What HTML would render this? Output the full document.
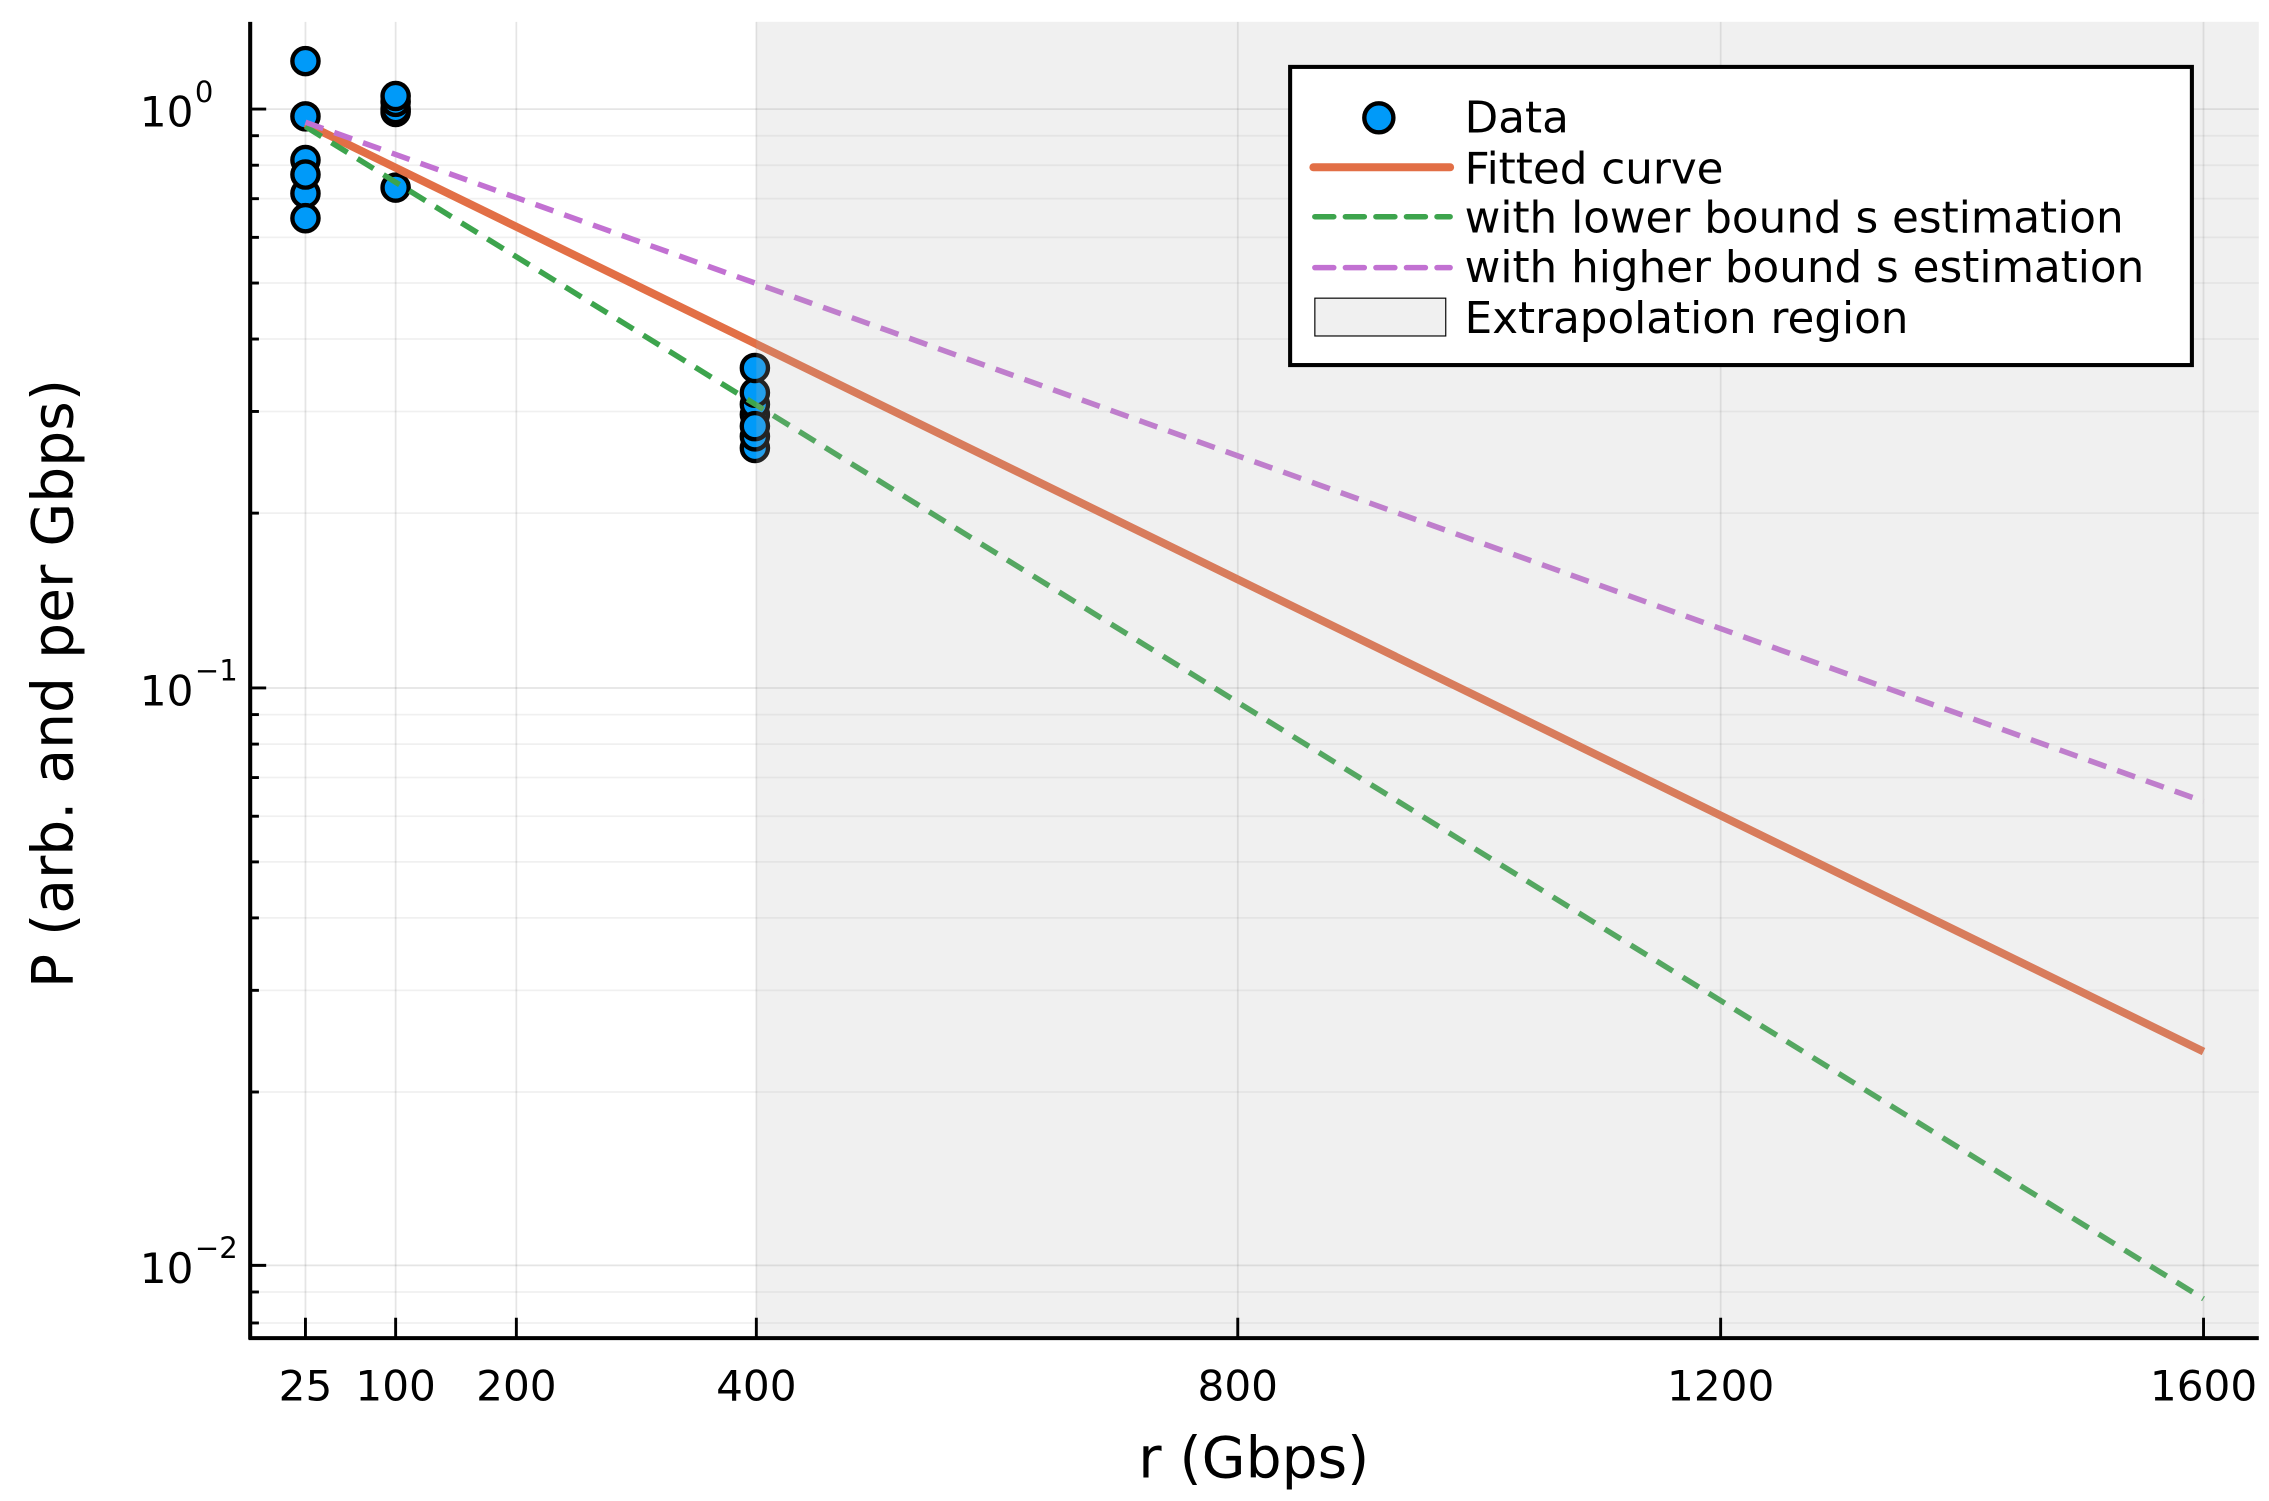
<!DOCTYPE html>
<html><head><meta charset="utf-8"><style>html,body{margin:0;padding:0;background:#fff}svg{display:block}</style></head>
<body>
<svg width="2269" height="1501" viewBox="0 0 1560 1032" xmlns="http://www.w3.org/2000/svg" font-family="'DejaVu Sans','Liberation Sans',sans-serif">
<rect width="1560" height="1032" fill="#fff"/>
<g stroke="#000" stroke-opacity="0.06" stroke-width="1.2">
<line x1="172" x2="1553" y1="352.8" y2="352.8"/><line x1="172" x2="1553" y1="282.9" y2="282.9"/><line x1="172" x2="1553" y1="233.1" y2="233.1"/><line x1="172" x2="1553" y1="194.6" y2="194.6"/><line x1="172" x2="1553" y1="163.2" y2="163.2"/><line x1="172" x2="1553" y1="136.6" y2="136.6"/><line x1="172" x2="1553" y1="113.6" y2="113.6"/><line x1="172" x2="1553" y1="93.3" y2="93.3"/>
<line x1="172" x2="1553" y1="750.8" y2="750.8"/><line x1="172" x2="1553" y1="680.9" y2="680.9"/><line x1="172" x2="1553" y1="631.1" y2="631.1"/><line x1="172" x2="1553" y1="592.6" y2="592.6"/><line x1="172" x2="1553" y1="561.2" y2="561.2"/><line x1="172" x2="1553" y1="534.6" y2="534.6"/><line x1="172" x2="1553" y1="511.6" y2="511.6"/><line x1="172" x2="1553" y1="491.3" y2="491.3"/>
<line x1="172" x2="1553" y1="888.3" y2="888.3"/><line x1="172" x2="1553" y1="909.6" y2="909.6"/>
</g>
<g stroke="#000" stroke-opacity="0.1" stroke-width="1.2">
<line x1="172" x2="1553" y1="75" y2="75"/><line x1="172" x2="1553" y1="473" y2="473"/><line x1="172" x2="1553" y1="870" y2="870"/>
<line x1="210" x2="210" y1="15" y2="920"/><line x1="272" x2="272" y1="15" y2="920"/><line x1="355" x2="355" y1="15" y2="920"/><line x1="520" x2="520" y1="15" y2="920"/><line x1="851" x2="851" y1="15" y2="920"/><line x1="1183" x2="1183" y1="15" y2="920"/><line x1="1515" x2="1515" y1="15" y2="920"/>
</g>
<g fill="#009af9" stroke="#000" stroke-width="3">
<circle cx="210" cy="42" r="9"/><circle cx="210" cy="80" r="9"/><circle cx="210" cy="110" r="9"/><circle cx="210" cy="133" r="9"/><circle cx="210" cy="150" r="9"/><circle cx="210" cy="120" r="9"/>
<circle cx="272" cy="77" r="9"/><circle cx="272" cy="75" r="9"/><circle cx="272" cy="70" r="9"/><circle cx="272" cy="66" r="9"/><circle cx="272" cy="129" r="9"/>
<circle cx="519" cy="308" r="9"/><circle cx="519" cy="300" r="9"/><circle cx="519" cy="285" r="9"/><circle cx="519" cy="278" r="9"/><circle cx="519" cy="270" r="9"/><circle cx="519" cy="293" r="9"/><circle cx="519" cy="253" r="9"/>
</g>
<line x1="210" y1="85" x2="1515" y2="723" stroke="#e26f46" stroke-width="5.5"/>
<line x1="210" y1="87" x2="1515" y2="893" stroke="#3da44d" stroke-width="3.8" stroke-dasharray="13 8"/>
<line x1="210" y1="84" x2="1515" y2="551" stroke="#c271d2" stroke-width="3.8" stroke-dasharray="13 8"/>
<rect x="520" y="15" width="1033" height="905" fill="#b4b4b4" fill-opacity="0.2"/>
<g stroke="#000" stroke-width="2.8">
<line x1="172" y1="15" x2="172" y2="921"/><line x1="171" y1="920" x2="1553" y2="920"/>
</g>
<g stroke="#000" stroke-width="2">
<line x1="172" x2="183" y1="75" y2="75"/><line x1="172" x2="183" y1="473" y2="473"/><line x1="172" x2="183" y1="870" y2="870"/>
<line x1="172" x2="178" y1="352.8" y2="352.8"/><line x1="172" x2="178" y1="282.9" y2="282.9"/><line x1="172" x2="178" y1="233.1" y2="233.1"/><line x1="172" x2="178" y1="194.6" y2="194.6"/><line x1="172" x2="178" y1="163.2" y2="163.2"/><line x1="172" x2="178" y1="136.6" y2="136.6"/><line x1="172" x2="178" y1="113.6" y2="113.6"/><line x1="172" x2="178" y1="93.3" y2="93.3"/>
<line x1="172" x2="178" y1="750.8" y2="750.8"/><line x1="172" x2="178" y1="680.9" y2="680.9"/><line x1="172" x2="178" y1="631.1" y2="631.1"/><line x1="172" x2="178" y1="592.6" y2="592.6"/><line x1="172" x2="178" y1="561.2" y2="561.2"/><line x1="172" x2="178" y1="534.6" y2="534.6"/><line x1="172" x2="178" y1="511.6" y2="511.6"/><line x1="172" x2="178" y1="491.3" y2="491.3"/>
<line x1="172" x2="178" y1="888.3" y2="888.3"/><line x1="172" x2="178" y1="909.6" y2="909.6"/>
<line x1="210" x2="210" y1="920" y2="906"/><line x1="272" x2="272" y1="920" y2="906"/><line x1="355" x2="355" y1="920" y2="906"/><line x1="520" x2="520" y1="920" y2="906"/><line x1="851" x2="851" y1="920" y2="906"/><line x1="1183" x2="1183" y1="920" y2="906"/><line x1="1515" x2="1515" y1="920" y2="906"/>
</g>
<g font-size="29" text-anchor="middle" fill="#000">
<text x="210" y="963">25</text><text x="272" y="963">100</text><text x="355" y="963">200</text><text x="520" y="963">400</text><text x="851" y="963">800</text><text x="1183" y="963">1200</text><text x="1515" y="963">1600</text>
</g>
<g font-size="29" fill="#000" text-anchor="end">
<text x="133" y="87">10</text><text x="133" y="485">10</text><text x="133" y="882">10</text>
</g>
<g font-size="20" fill="#000">
<text x="134" y="70">0</text><text x="134" y="468">−1</text><text x="134" y="865">−2</text>
</g>
<text x="862" y="1016" font-size="39" text-anchor="middle">r (Gbps)</text>
<text transform="translate(50,470) rotate(-90)" font-size="39" text-anchor="middle">P (arb. and per Gbps)</text>
<rect x="887" y="46" width="620" height="205" fill="#fff" stroke="#000" stroke-width="2.8"/>
<circle cx="948" cy="81" r="10" fill="#009af9" stroke="#000" stroke-width="3"/>
<line x1="903" y1="115" x2="997" y2="115" stroke="#e26f46" stroke-width="5.5" stroke-linecap="round"/>
<line x1="904" y1="149" x2="997" y2="149" stroke="#3da44d" stroke-width="3.8" stroke-dasharray="13 8" stroke-linecap="round"/>
<line x1="904" y1="184" x2="997" y2="184" stroke="#c271d2" stroke-width="3.8" stroke-dasharray="13 8" stroke-linecap="round"/>
<rect x="904" y="205" width="90" height="26" fill="#f0f0f0" stroke="#000" stroke-width="0.8"/>
<g font-size="30" fill="#000">
<text x="1007" y="91">Data</text>
<text x="1007" y="126">Fitted curve</text>
<text x="1007" y="160">with lower bound s estimation</text>
<text x="1007" y="194">with higher bound s estimation</text>
<text x="1007" y="229">Extrapolation region</text>
</g>
</svg>
</body></html>
